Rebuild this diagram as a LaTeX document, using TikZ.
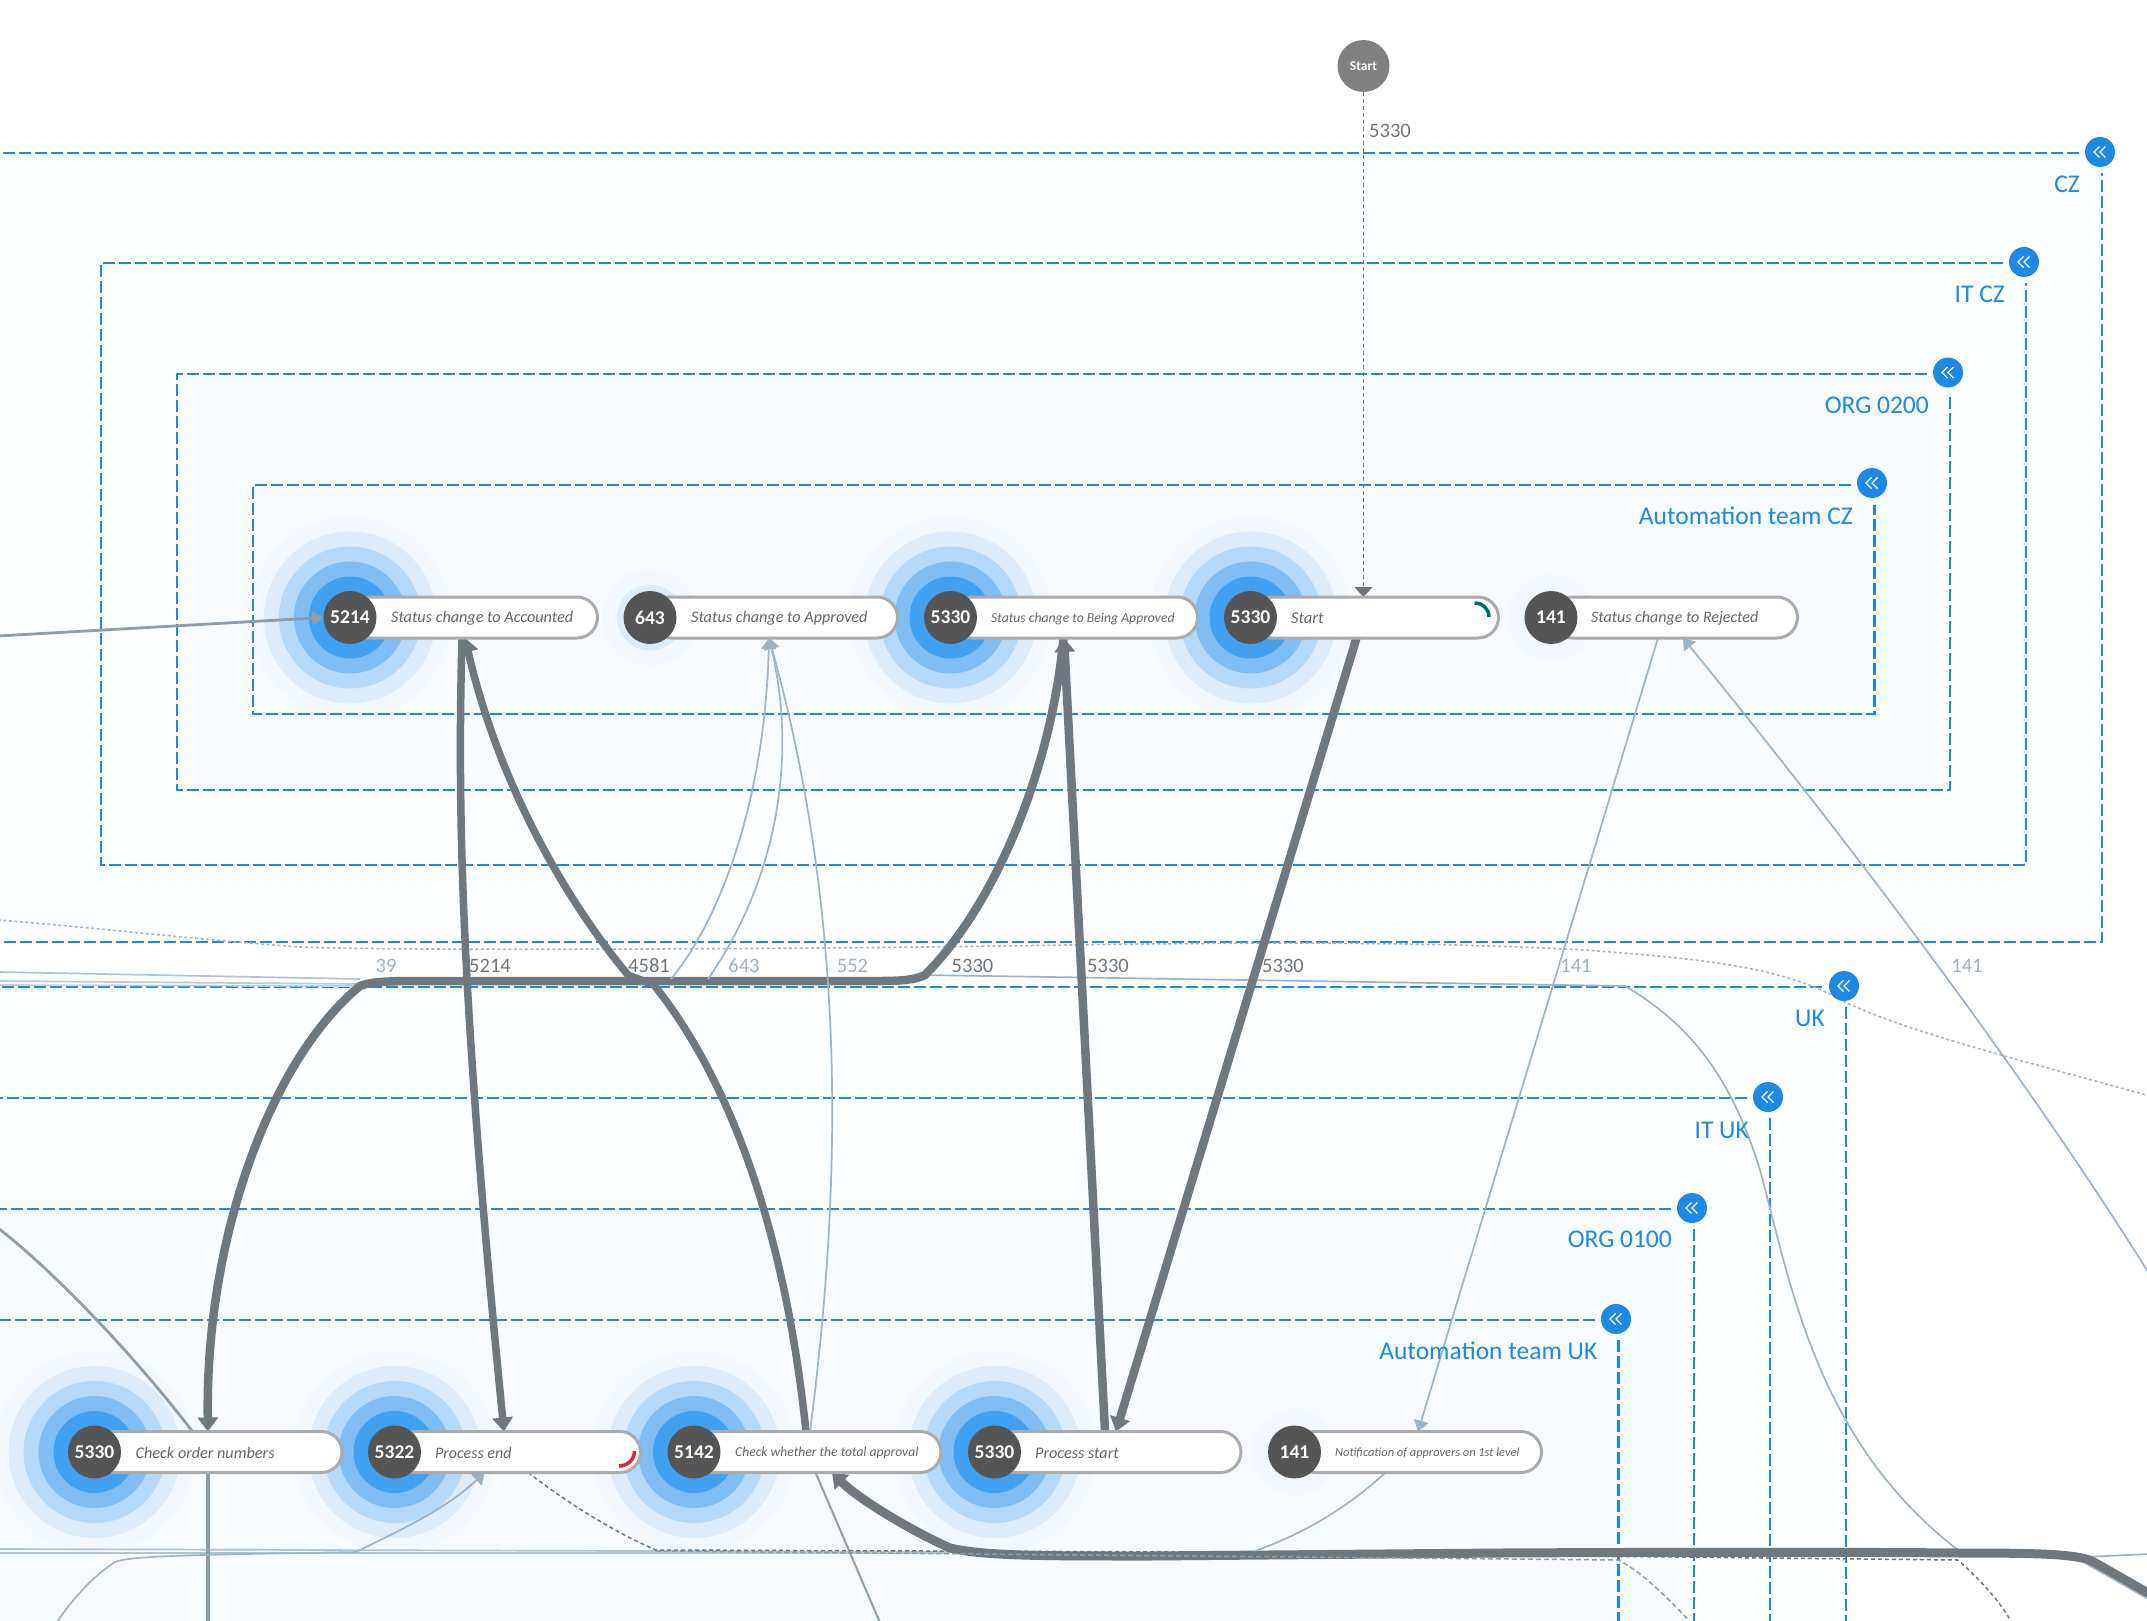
\documentclass[tikz,border=0pt]{standalone}
\usepackage{fontspec}
\setmainfont{Carlito}
\usetikzlibrary{arrows.meta,calc}
\definecolor{bluedash}{HTML}{1E88E5}
\definecolor{thickc}{HTML}{70787F}
\definecolor{midc}{HTML}{8D9DAC}
\definecolor{thinc}{HTML}{9DB3C8}
\definecolor{dotc}{HTML}{A6B5C4}
\definecolor{darklab}{HTML}{6F767B}
\definecolor{lightlab}{HTML}{9FB0C0}
\definecolor{pillb}{HTML}{ABABAB}
\definecolor{numc}{HTML}{555555}
\definecolor{pilltx}{HTML}{666666}
\definecolor{startc}{HTML}{808080}
\definecolor{hA}{HTML}{42A0F0}
\definecolor{hB}{HTML}{80BDF5}
\definecolor{hC}{HTML}{B5D9FA}
\definecolor{hD}{HTML}{DCECFC}
\definecolor{hE}{HTML}{F2F8FE}
\definecolor{fA}{HTML}{FDFEFF}
\definecolor{fB}{HTML}{FBFDFF}
\definecolor{fC}{HTML}{F9FCFF}
\definecolor{fD}{HTML}{F7FBFF}
\pgfdeclarelayer{boxes}\pgfdeclarelayer{halos}\pgfdeclarelayer{grouplines}\pgfdeclarelayer{edges}
\pgfsetlayers{boxes,halos,grouplines,edges,main}
\tikzset{
  groupline/.style={draw=bluedash,line width=2.5pt,dash pattern=on 12pt off 4pt},
  grouplabel/.style={anchor=east,text=bluedash,font=\fontsize{25.5}{27}\selectfont,inner sep=0pt},
  pillbox/.style={draw=pillb,line width=3pt,fill=white,rectangle,rounded corners=20.5pt,minimum height=41pt,inner sep=0pt,outer sep=0pt},
  numnode/.style={circle,fill=numc,text=white,minimum size=53pt,inner sep=0pt,font=\fontsize{19.5}{20}\selectfont\bfseries},
  pilltext/.style={anchor=west,text=pilltx,inner sep=0pt},
  btnnode/.style={circle,fill=bluedash,minimum size=30pt,inner sep=0pt},
  heavy/.style={draw=thickc,line width=8.5pt},
  heavytip/.style={-{Triangle[width=20pt,length=14pt]}},
  midedge/.style={draw=midc,line width=2.8pt},
  thinedge/.style={draw=thinc,line width=1.7pt},
  thintip/.style={-{Triangle[width=15pt,length=11pt]}},
  dottededge/.style={draw=dotc,line width=1.6pt,dash pattern=on 3pt off 2.5pt},
  dashdark/.style={draw=darklab,line width=1.5pt,dash pattern=on 4pt off 3pt},
  dashlight/.style={draw=midc,line width=1.5pt,dash pattern=on 5pt off 3pt},
  edgelab/.style={inner sep=0pt,font=\fontsize{20.5}{21}\selectfont}
}
% name, x, y, rings, number, right end, text x, text size, text
\newcommand{\stepnode}[9]{%
  \begin{pgfonlayer}{halos}
    \ifnum#4>4 \fill[hE] (#2,#3) circle[radius=101pt];\fi
    \ifnum#4>3 \fill[hD] (#2,#3) circle[radius=86pt];\fi
    \ifnum#4>2 \fill[hC] (#2,#3) circle[radius=71pt];\fi
    \ifnum#4>2 \fill[hB] (#2,#3) circle[radius=56pt];\fi
    \ifnum#4>2 \fill[hA] (#2,#3) circle[radius=41pt];\fi
    \ifnum#4=2 \fill[hE] (#2,#3) circle[radius=48pt];\fill[hD] (#2,#3) circle[radius=33pt];\fi
    \ifnum#4=1 \fill[hE] (#2,#3) circle[radius=43pt];\fi
  \end{pgfonlayer}
  \node[pillbox,minimum width={#6-#2-1.5}] (p#1) at ({(#6-1.5+#2)/2},#3) {};
  \node[numnode] (n#1) at (#2,#3) {#5};
  \node[pilltext,font=\fontsize{#8}{18}\selectfont\itshape] (t#1) at (#7,#3+1) {#9};
}
% name, x, y
\newcommand{\groupbtn}[3]{%
  \node[btnnode] (#1) at (#2,#3) {};
  \draw[white,line width=1.3pt] ($(#1)+(-0.5,-5.5)$) -- ($(#1)+(-6,0)$) -- ($(#1)+(-0.5,5.5)$);
  \draw[white,line width=1.3pt] ($(#1)+(5.5,-5.5)$) -- ($(#1)+(0,0)$) -- ($(#1)+(5.5,5.5)$);
}
\begin{document}
\begin{tikzpicture}[x=1pt,y=-1pt]
\useasboundingbox (0,0) rectangle (2147,1621);
\clip (0,0) rectangle (2147,1621);
\begin{pgfonlayer}{boxes}
  \fill[white] (0,0) rectangle (2147,1621);
  \fill[fA] (-20,153) rectangle (2102,942);
  \fill[fB] (101,263) rectangle (2026,865);
  \fill[fC] (177,374) rectangle (1950,790);
  \fill[fD] (253,485) rectangle (1874.5,714);
  \fill[fA] (-20,987) rectangle (1846,1640);
  \fill[fB] (-20,1098) rectangle (1770,1640);
  \fill[fC] (-20,1209) rectangle (1694,1640);
  \fill[fD] (-20,1320) rectangle (1618.5,1640);
\end{pgfonlayer}
\begin{pgfonlayer}{grouplines}
  \draw[groupline] (2079,153) -- (-20,153) -- (-20,942) -- (2102,942) -- (2102,173);
  \draw[groupline] (2003,263) -- (101,263) -- (101,865) -- (2026,865) -- (2026,283);
  \draw[groupline] (1927,374) -- (177,374) -- (177,790) -- (1950,790) -- (1950,394);
  \draw[groupline] (1851,485) -- (253,485) -- (253,714) -- (1874.5,714) -- (1874.5,505);
  \draw[groupline] (1822,987) -- (-20,987);
  \draw[groupline] (1846,1007) -- (1846,1640);
  \draw[groupline] (1747,1098) -- (-20,1098);
  \draw[groupline] (1770,1118) -- (1770,1640);
  \draw[groupline] (1671,1209) -- (-20,1209);
  \draw[groupline] (1694,1229) -- (1694,1640);
  \draw[groupline] (1595,1320) -- (-20,1320);
  \draw[groupline] (1618.5,1340) -- (1618.5,1640);
\end{pgfonlayer}

\node[grouplabel] (lCZ) at (2080,184) {CZ};
\node[grouplabel] (lITCZ) at (2005,294.5) {IT CZ};
\node[grouplabel] (lORGa) at (1929,405.5) {ORG 0200};
\node[grouplabel] (lATCZ) at (1853,515.5) {Automation team CZ};
\node[grouplabel] (lUK) at (1825,1018) {UK};
\node[grouplabel] (lITUK) at (1749,1130) {IT UK};
\node[grouplabel] (lORGb) at (1672,1239.5) {ORG 0100};
\node[grouplabel] (lATUK) at (1597.5,1350.5) {Automation team UK};

\groupbtn{bCZ}{2100}{152}
\groupbtn{bITCZ}{2024}{262}
\groupbtn{bORGa}{1948}{372.5}
\groupbtn{bATCZ}{1872}{483}
\groupbtn{bUK}{1844}{986}
\groupbtn{bITUK}{1768}{1097}
\groupbtn{bORGb}{1692}{1208}
\groupbtn{bATUK}{1616}{1319}

\node[circle,fill=startc,text=white,minimum size=52pt,inner sep=0pt,font=\fontsize{13.5}{14}\selectfont\bfseries] (start) at (1363.5,66) {Start};

\stepnode{A}{350}{617.5}{5}{5214}{599}{391}{16.2}{Status change to Accounted}
\stepnode{B}{650}{617.5}{2}{643}{899}{691}{16.2}{Status change to Approved}
\stepnode{C}{950.5}{617.5}{5}{5330}{1199}{991}{13.7}{Status change to Being Approved}
\stepnode{D}{1250.5}{617.5}{5}{5330}{1500}{1291}{16.5}{Start}
\stepnode{E}{1551}{617.5}{1}{141}{1799}{1591}{16}{Status change to Rejected}
\stepnode{F}{94.5}{1452}{5}{5330}{343.5}{135.5}{16.2}{Check order numbers}
\stepnode{G}{394.5}{1452}{5}{5322}{642}{435}{16}{Process end}
\stepnode{H}{694}{1452}{5}{5142}{942.5}{735}{13.6}{Check whether the total approval}
\stepnode{I}{994.5}{1452}{5}{5330}{1242.5}{1035}{16.2}{Process start}
\stepnode{J}{1294.5}{1452}{1}{141}{1543}{1335}{12.4}{Notification of approvers on 1st level}

% status arcs
\draw[draw={rgb,255:red,0;green,109;blue,109},line width=3.5pt] (1474.6,603) .. controls (1482.6,603) and (1489,609) .. (1489,617);
\draw[draw={rgb,255:red,224;green,35;blue,58},line width=3.5pt] (634.5,1451) .. controls (634.5,1459.5) and (627.5,1466) .. (619,1466);

% edge labels
\node[edgelab,text=darklab,anchor=west] (e0) at (1369,130.5) {5330};
\node[edgelab,text=lightlab] (e1) at (386,966) {39};
\node[edgelab,text=darklab] (e2) at (490,966) {5214};
\node[edgelab,text=darklab] (e3) at (649,966) {4581};
\node[edgelab,text=lightlab] (e4) at (744,966) {643};
\node[edgelab,text=lightlab] (e5) at (852.5,966) {552};
\node[edgelab,text=darklab] (e6) at (972.5,966) {5330};
\node[edgelab,text=darklab] (e7) at (1108,966) {5330};
\node[edgelab,text=darklab] (e8) at (1283,966) {5330};
\node[edgelab,text=lightlab] (e9) at (1576,966) {141};
\node[edgelab,text=lightlab] (e10) at (1967,966) {141};

\coordinate (leftA) at (-2,636);
\coordinate (leftB) at (-2,1228);
\coordinate (botF) at (208,1625);
\coordinate (botH) at (881,1625);
\coordinate (botG) at (2013,1625);
\coordinate (botG2) at (1693,1625);
\coordinate (botL) at (55,1625);
\coordinate (rightR) at (2150,1275);
\coordinate (rightD) at (2150,1096);
\coordinate (leftD) at (-2,920);
\coordinate (rightH) at (2150,1594);

\begin{pgfonlayer}{edges}
  % faint bundles
  \draw[thinedge,draw=thinc!80] (-2,972) -- (360,979);
  \draw[thinedge,draw=thinc!70] (-2,981) -- (360,984);
  \draw[thinedge,draw=thinc!60] (-2,985) -- (360,986);
  \draw[thinedge] (922,975) -- (1625,986) .. controls (1700,1030) and (1735,1090) .. (1760,1170) .. controls (1790,1280) and (1815,1440) .. (1958,1550);
  \draw[thinedge,draw=thinc!80] (-2,1549) -- (950,1552);
  \draw[thinedge,draw=thinc!80] (-2,1553) -- (950,1553);
  \draw[thinedge] (2085,1557) -- (2150,1554);
  \draw[thinedge] (2085,1563) -- (2150,1600);
  % dotted
  \draw[dottededge] (leftD) .. controls (100,928) and (200,940) .. (300,947) .. controls (400,951) and (800,949) .. (1000,946) .. controls (1200,943) and (1400,940) .. (1585,950) .. controls (1690,958) and (1780,965) .. (1841,1000) .. controls (1900,1030) and (2020,1060) .. (rightD);
  % start edge
  \draw[dashdark,-{Triangle[width=18pt,length=10pt]}] (start.south) -- ([xshift=113]pD.north west);
  % heavy edges
  \draw[heavy,heavytip] ([xshift=106]pD.south west) -- ([xshift=121.5]pI.north west);
  \draw[heavy,heavytip] ([xshift=110.5]pI.north west) -- ([xshift=113.5]pC.south west);
  \draw[heavy,heavytip] ([xshift=113]pC.south west) .. controls (1050,780) and (990,910) .. (925,975) .. controls (915,980) and (900,981) .. (880,981) -- (420,981) .. controls (385,981) and (370,982) .. (360,986) .. controls (270,1060) and (205,1240) .. ([xshift=113.5]pF.north west);
  \draw[heavy,line width=7.5pt,heavytip] ([xshift=112]pA.south west) .. controls (457,820) and (462,1010) .. ([xshift=109.5]pG.north west);
  \draw[heavy,line width=7.5pt,heavytip] ([xshift=112]pH.north west) .. controls (785,1230) and (730,1080) .. (654,985) -- (628,975) .. controls (570,905) and (500,790) .. ([xshift=115]pA.south west);
  \draw[heavy,line width=9pt,heavytip] (rightH) -- (2092,1561) .. controls (2075,1554) and (2040,1553) .. (1960,1553) .. controls (1850,1552) and (1700,1552) .. (1500,1553) -- (1150,1556) .. controls (1040,1556) and (985,1556) .. (950,1548) .. controls (910,1530) and (860,1500) .. ([xshift=138]pH.south west);
  % mid edges
  \draw[midedge,thintip] (leftA) -- (nA.west);
  \draw[midedge] (leftB) .. controls (50,1268) and (130,1350) .. ([xshift=98]pF.north west);
  \draw[midedge,line width=4pt] ([xshift=113.5]pF.south west) -- (botF);
  \draw[midedge,line width=2pt] ([xshift=121.5]pH.south west) -- (botH);
  % thin edges
  \draw[thinedge,thintip] (671,979) .. controls (720,920) and (765,800) .. ([xshift=119]pB.south west);
  \draw[thinedge,thintip] (708,979) .. controls (770,890) and (800,770) .. ([xshift=119]pB.south west);
  \draw[thinedge,thintip] ([xshift=116]pH.north west) .. controls (840,1200) and (850,930) .. ([xshift=119]pB.south west);
  \draw[thinedge,thintip] ([xshift=107]pE.south west) -- ([xshift=123.5]pJ.north west);
  \draw[thinedge,thintip] (rightR) .. controls (2050,1115) and (1900,905) .. ([xshift=132]pE.south west);
  \draw[thinedge,thintip] (358,1551) .. controls (400,1530) and (445,1510) .. ([xshift=90]pG.south west);
  \draw[thinedge] (botL) .. controls (75,1595) and (95,1575) .. (115,1562) .. controls (130,1556) and (180,1555) .. (358,1552);
  \draw[thinedge] ([xshift=91]pJ.south west) .. controls (1345,1510) and (1300,1535) .. (1255,1551);
  % dashed edges
  \draw[dashdark] ([xshift=133.5]pG.south west) .. controls (570,1505) and (620,1535) .. (656,1550) -- (1200,1552) -- (1958,1560) .. controls (1975,1575) and (2000,1600) .. (botG);
  \draw[dashlight] (656,1551) -- (1618,1560) .. controls (1640,1570) and (1670,1600) .. (botG2);
\end{pgfonlayer}
\end{tikzpicture}
\end{document}
